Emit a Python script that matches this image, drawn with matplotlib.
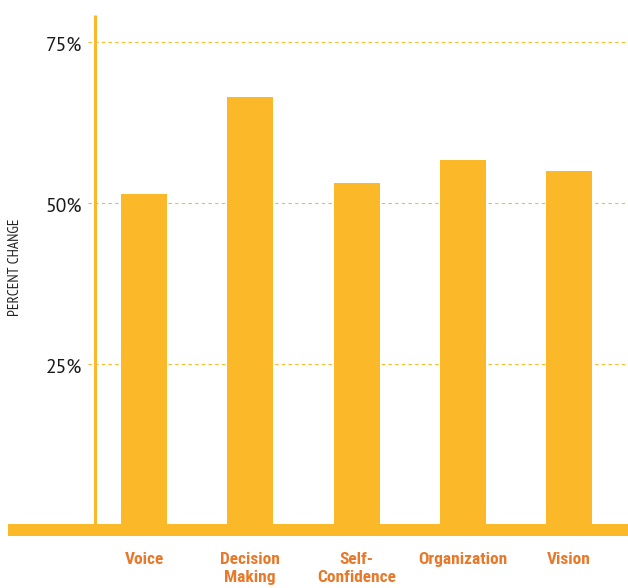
import matplotlib
matplotlib.use('Agg')
import matplotlib.pyplot as plt
import matplotlib.transforms as mtransforms
from matplotlib.patches import Rectangle

categories = ['Voice', 'Decision\nMaking', 'Self-\nConfidence', 'Organization', 'Vision']
values = [51.4, 66.5, 53.1, 56.7, 55.0]
ticks = [25, 50, 75]
tick_labels = ['25%', '50%', '75%']

gold = '#FBB829'
orange = '#E8792B'

fig = plt.figure(figsize=(6.28, 5.88), dpi=100)
ax = fig.add_axes([95/628, 50/588, 533/628, 523/588])

x = list(range(len(categories)))
ax.bar(x, values, width=0.433, color=gold, zorder=3)
ax.set_xlim(-0.461, 4.555)
ax.set_ylim(-2.0, 79.2)

# dashed gridlines that poke a little left of the axis
trans = mtransforms.blended_transform_factory(ax.transAxes, ax.transData)
for t, lab in zip(ticks, tick_labels):
    ax.plot([-0.013, 1.0], [t, t], transform=trans, color=gold, lw=0.8,
            ls=(0, (3, 3)), clip_on=False, zorder=1)
    ax.text(-0.025, t - 0.5, lab, transform=trans, ha='right', va='center',
            fontsize=14, family=['PT Sans', 'DejaVu Sans'], color='#1a1a1a')

# vertical axis line
ax.plot([0, 0], [0, 79.2], transform=trans, color=gold, lw=2.2,
        clip_on=False, zorder=2, solid_capstyle='butt')

# thick baseline band
ax.add_patch(Rectangle((-0.163, -1.75), 1.163, 2.0, transform=trans,
                       color=gold, clip_on=False, zorder=4, lw=0))

for s in ax.spines.values():
    s.set_visible(False)
ax.set_xticks([])
ax.set_yticks([])

# category labels
for xi, c in zip(x, categories):
    ax.text(xi, -4.2, c, ha='center', va='top', fontsize=12.5, fontweight='bold',
            family=['Roboto Condensed', 'DejaVu Sans'], color=orange,
            linespacing=1.2, clip_on=False)

fig.text(15/628, 1 - 267/588, 'PERCENT CHANGE', rotation=90, ha='center',
         va='center', fontsize=11, family=['PT Sans Narrow', 'DejaVu Sans'],
         color='#222222')

fig.savefig('out.png', dpi=100)
